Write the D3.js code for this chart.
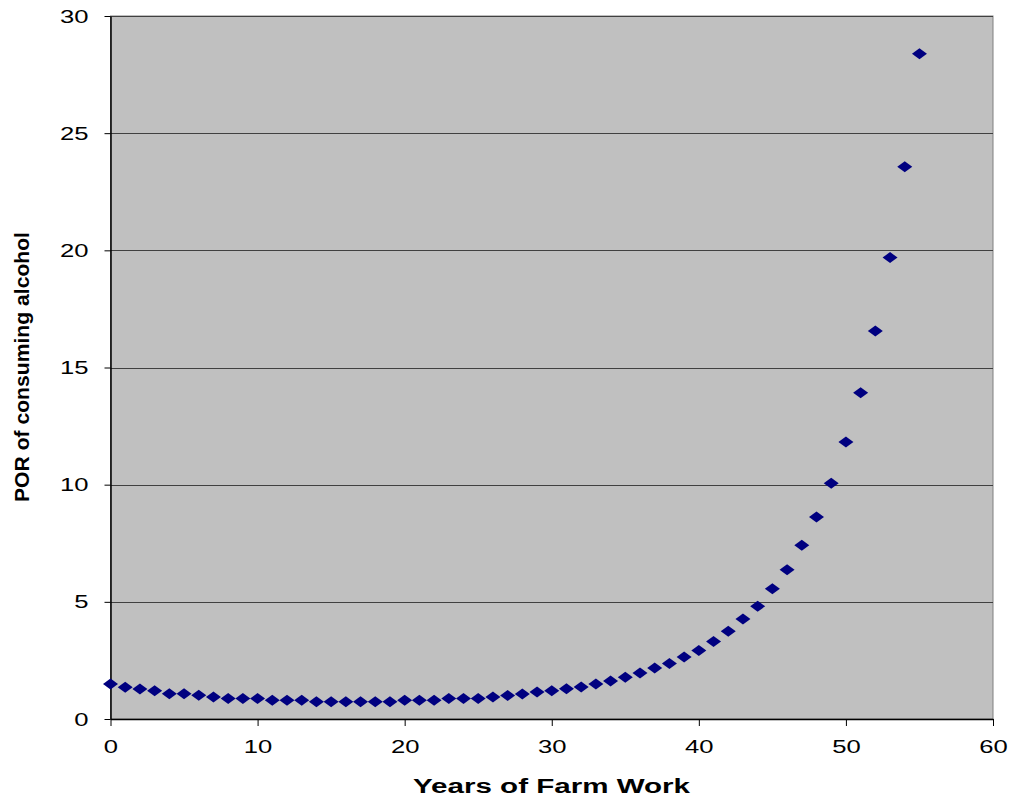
<!DOCTYPE html>
<html><head><meta charset="utf-8">
<script src="https://cdn.jsdelivr.net/npm/d3@7/dist/d3.min.js"></script>
<style>body{margin:0;background:#fff}svg{display:block}</style>
</head><body>
<svg id="c" width="1017" height="803"></svg>
<script>
const years = d3.range(0, 56);
const por = [1.49,1.35,1.28,1.21,1.08,1.08,1.01,0.94,0.87,0.87,0.87,0.80,0.80,0.80,0.74,0.74,0.74,0.74,0.74,0.74,
  0.80,0.80,0.80,0.87,0.87,0.87,0.94,1.00,1.07,1.15,1.21,1.29,1.37,1.49,1.62,1.78,1.96,2.18,2.37,2.65,
  2.92,3.31,3.74,4.27,4.81,5.56,6.37,7.41,8.62,10.06,11.82,13.92,16.56,19.69,23.57,28.39];
const xTicks = [0,10,20,30,40,50,60];
const yTicks = [0,5,10,15,20,25,30];

const svg = d3.select('#c');
const L = 110.5, R = 993, T = 16, B = 719;
const x = d3.scaleLinear().domain([0,60]).range([L,R]);
const y = d3.scaleLinear().domain([0,30]).range([B,T]);
const FONT = 'Liberation Sans, Arial, sans-serif';

svg.append('rect').attr('x',L).attr('y',T).attr('width',R-L).attr('height',B-T)
  .attr('fill','#c0c0c0').attr('stroke','#808080').attr('stroke-width',1);

svg.append('g').selectAll('line').data(yTicks.filter(d=>d>0)).join('line')
  .attr('x1',L).attr('x2',R).attr('y1',d=>Math.round(y(d))+0.5).attr('y2',d=>Math.round(y(d))+0.5)
  .attr('stroke','#404040').attr('stroke-width',1);

const yAxis = svg.append('g').attr('transform',`translate(${L},0)`)
  .call(d3.axisLeft(y).tickValues(yTicks).tickSize(6).tickPadding(16).tickSizeOuter(0));
const xAxis = svg.append('g').attr('transform',`translate(0,${B})`)
  .call(d3.axisBottom(x).tickValues(xTicks).tickSize(7).tickPadding(14).tickSizeOuter(0));
[yAxis,xAxis].forEach(a=>{
  a.select('.domain').attr('stroke','#000').attr('stroke-width',1.5);
  a.selectAll('.tick line').attr('stroke','#000');
  a.selectAll('text').attr('font-family',FONT).attr('font-size',19).attr('fill','#000')
    .each(function(){
      const t = d3.select(this);
      const x0 = +t.attr('x') || 0;
      t.attr('x',0).attr('transform',`translate(${x0},0) scale(1.35,1)`);
    });
});

const diamond = 'M0,-5.5L7.5,0L0,5.5L-7.5,0Z';
svg.append('g').selectAll('path').data(years).join('path')
  .attr('d',diamond)
  .attr('transform',(d,i)=>`translate(${x(d)},${y(por[i])})`)
  .attr('fill','#000080');

svg.append('text').attr('x',551.5).attr('y',793).attr('text-anchor','middle')
  .attr('font-family',FONT).attr('font-weight','bold').attr('font-size',19.5)
  .attr('textLength',277).attr('lengthAdjust','spacingAndGlyphs')
  .text('Years of Farm Work');

svg.append('text').attr('transform','translate(29,367) rotate(-90)').attr('text-anchor','middle')
  .attr('font-family',FONT).attr('font-weight','bold').attr('font-size',21)
  .attr('textLength',270).attr('lengthAdjust','spacingAndGlyphs')
  .text('POR of consuming alcohol');
</script>
</body></html>
